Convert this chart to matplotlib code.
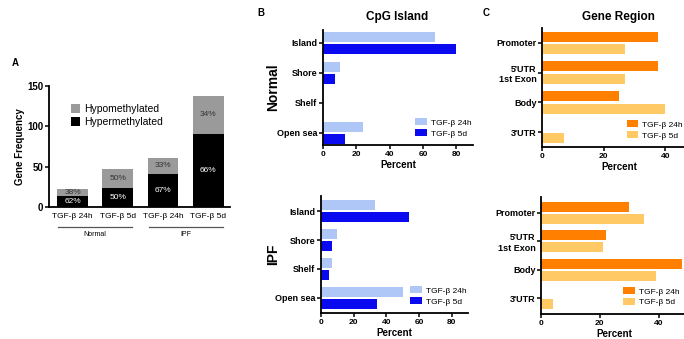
import matplotlib
matplotlib.use("Agg")
import matplotlib.pyplot as plt

plt.rcParams['font.family'] = ['Liberation Sans', 'DejaVu Sans']

# panel A
conditions = ['TGF-β 24h', 'TGF-β 5d', 'TGF-β 24h', 'TGF-β 5d']
hyper = [14, 24, 41, 91]
hypo = [8, 23, 20, 47]
hyper_pct = ['62%', '50%', '67%', '66%']
hypo_pct = ['38%', '50%', '33%', '34%']

# panel B
cpg_cats = ['Island', 'Shore', 'Shelf', 'Open sea']
normal_24h = [67, 10, 0, 24]
normal_5d = [80, 7, 0, 13]
ipf_24h = [33, 10, 7, 50]
ipf_5d = [54, 7, 5, 34]

# panel C
region_cats = ['Promoter', "5'UTR\n1st Exon", 'Body', "3'UTR"]
normal_reg_24h = [37.5, 37.5, 25, 0]
normal_reg_5d = [27, 27, 40, 7]
ipf_reg_24h = [30, 22, 48, 0]
ipf_reg_5d = [35, 21, 39, 4]

W, H = 684, 339
fig = plt.figure(figsize=(W / 100, H / 100), dpi=100)


def box(left, top, right, bottom):
    return [left / W, 1 - bottom / H, (right - left) / W, (bottom - top) / H]


def style(ax):
    for s in ['top', 'right']:
        ax.spines[s].set_visible(False)
    for s in ['left', 'bottom']:
        ax.spines[s].set_linewidth(1.3)
    ax.tick_params(width=1.1, length=3, labelsize=6, pad=1)
    for lab in ax.get_xticklabels() + ax.get_yticklabels():
        lab.set_fontweight('bold')


# ---- A ----
axA = fig.add_axes(box(49, 86, 230, 207))
x = range(len(conditions))
axA.bar(x, hyper, width=0.68, color='black', label='Hypermethylated')
axA.bar(x, hypo, width=0.68, bottom=hyper, color='#9a9a9a', label='Hypomethylated')
for i in x:
    axA.text(i, hyper[i] / 2, hyper_pct[i], color='white', ha='center', va='center', fontsize=6)
    axA.text(i, hyper[i] + hypo[i] / 2, hypo_pct[i], color='#333333', ha='center', va='center', fontsize=6)
axA.set_xlim(-0.52, 3.48)
axA.set_ylim(0, 150)
axA.set_yticks([0, 50, 100, 150])
axA.set_xticks(list(x))
style(axA)
axA.set_xticklabels(conditions, fontsize=6, fontweight='normal')
axA.tick_params(axis='x', length=0, pad=4)
axA.tick_params(axis='y', labelsize=7)
axA.set_ylabel('Gene Frequency', fontsize=7, fontweight='bold')
axA.yaxis.set_label_coords(-0.133, 0.5)
h, l = axA.get_legend_handles_labels()
axA.legend(h[::-1], l[::-1], loc='upper left', bbox_to_anchor=(0.07, 0.93), frameon=False,
           fontsize=7.5, handlelength=0.9, handleheight=0.9, handletextpad=0.4, labelspacing=0.3)
for xs, name in [((-0.32, 1.32), 'Normal'), ((1.68, 3.32), 'IPF')]:
    axA.plot(xs, [-0.165, -0.165], color='#555555', lw=0.9, clip_on=False,
             transform=axA.get_xaxis_transform())
    axA.text(sum(xs) / 2, -0.2, name, fontsize=5, ha='center', va='top',
             transform=axA.get_xaxis_transform())


def hbars(ax, cats, a, b, ca, cb, la, lb, ylim, xlim):
    y = range(len(cats))
    ax.barh([i - 0.21 for i in y], a, height=0.34, color=ca, label=la)
    ax.barh([i + 0.21 for i in y], b, height=0.34, color=cb, label=lb)
    ax.set_yticks(list(y))
    ax.set_yticklabels(cats)
    ax.set_ylim(*ylim)
    ax.set_xlim(*xlim)
    style(ax)
    ax.tick_params(axis='y', labelsize=6.5)
    ax.set_xlabel('Percent', fontsize=7, fontweight='bold', labelpad=2)


legkw = dict(frameon=False, fontsize=6, handlelength=1.4, handleheight=0.9,
             handletextpad=0.5, labelspacing=0.3)

# ---- B ----
axB1 = fig.add_axes(box(323, 30, 473, 145))
hbars(axB1, cpg_cats, normal_24h, normal_5d, '#aec7f7', '#0a0af0', 'TGF-β 24h', 'TGF-β 5d',
      (3.4, -0.43), (0, 90))
axB1.set_xticks([0, 20, 40, 60, 80])
axB1.legend(loc='lower right', bbox_to_anchor=(1.04, 0.0), **legkw)

axB2 = fig.add_axes(box(321, 196, 468, 313))
hbars(axB2, cpg_cats, ipf_24h, ipf_5d, '#aec7f7', '#0a0af0', 'TGF-β 24h', 'TGF-β 5d',
      (3.52, -0.52), (0, 90))
axB2.set_xticks([0, 20, 40, 60, 80])
axB2.legend(loc='lower right', bbox_to_anchor=(1.04, 0.0), **legkw)

fig.text(273 / W, 1 - 87 / H, 'Normal', fontsize=10, fontweight='bold', rotation=90,
         ha='center', va='center')
fig.text(273 / W, 1 - 254 / H, 'IPF', fontsize=10, fontweight='bold', rotation=90,
         ha='center', va='center')

# ---- C ----
axC1 = fig.add_axes(box(542, 28, 696, 147))
hbars(axC1, region_cats, normal_reg_24h, normal_reg_5d, '#ff7f00', '#ffc966', 'TGF-β 24h', 'TGF-β 5d',
      (3.5, -0.5), (0, 50))
axC1.set_xticks([0, 20, 40])
axC1.legend(loc='lower left', bbox_to_anchor=(0.5, 0.0), **legkw)

axC2 = fig.add_axes(box(541, 197, 688, 314))
hbars(axC2, region_cats, ipf_reg_24h, ipf_reg_5d, '#ff7f00', '#ffc966', 'TGF-β 24h', 'TGF-β 5d',
      (3.55, -0.55), (0, 50))
axC2.set_xticks([0, 20, 40])
axC2.legend(loc='lower left', bbox_to_anchor=(0.51, 0.0), **legkw)

# titles and panel letters
fig.text(397 / W, 1 - 17 / H, 'CpG Island', fontsize=8.5, fontweight='bold', ha='center', va='center')
fig.text(618 / W, 1 - 17 / H, 'Gene Region', fontsize=8.5, fontweight='bold', ha='center', va='center')
fig.text(12 / W, 1 - 63 / H, 'A', fontsize=7, fontweight='bold', ha='left', va='center')
fig.text(257 / W, 1 - 13 / H, 'B', fontsize=7, fontweight='bold', ha='left', va='center')
fig.text(483 / W, 1 - 13 / H, 'C', fontsize=7, fontweight='bold', ha='left', va='center')

fig.savefig('out.png', dpi=100)
